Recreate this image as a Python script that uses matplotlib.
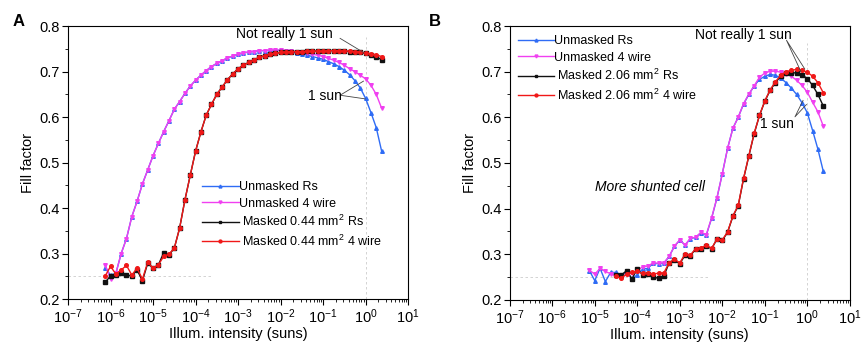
import numpy as np
import matplotlib
matplotlib.use('Agg')
import matplotlib.pyplot as plt
from matplotlib.ticker import LogLocator, MultipleLocator, NullFormatter

plt.rcParams['font.family'] = ['Liberation Sans', 'DejaVu Sans']
plt.rcParams['mathtext.fontset'] = 'custom'
plt.rcParams['mathtext.rm'] = 'Liberation Sans'
plt.rcParams['mathtext.it'] = 'Liberation Sans:italic'

# ---- panel A data (x as log10 of suns) ----
a_exp = [-6.125, -6.0, -5.875, -5.75, -5.625, -5.5, -5.375, -5.25, -5.125, -5.0,
         -4.875, -4.75, -4.625, -4.5, -4.375, -4.25, -4.125, -4.0, -3.875, -3.75,
         -3.625, -3.5, -3.375, -3.25, -3.125, -3.0, -2.875, -2.75, -2.625, -2.5,
         -2.375, -2.25, -2.125, -2.0, -1.875, -1.75, -1.625, -1.5, -1.375, -1.25,
         -1.125, -1.0, -0.875, -0.75, -0.625, -0.5, -0.375, -0.25, -0.125, 0.0,
         0.125, 0.25, 0.375]
a_unm_rs = [0.268, 0.253, 0.256, 0.300, 0.333, 0.381, 0.415, 0.453, 0.484, 0.515,
            0.542, 0.568, 0.592, 0.617, 0.634, 0.652, 0.668, 0.681, 0.692, 0.702,
            0.711, 0.718, 0.724, 0.730, 0.734, 0.738, 0.741, 0.743, 0.744, 0.746,
            0.746, 0.747, 0.747, 0.747, 0.745, 0.743, 0.741, 0.739, 0.736, 0.733,
            0.730, 0.727, 0.722, 0.717, 0.711, 0.703, 0.693, 0.680, 0.664, 0.641,
            0.610, 0.577, 0.526]
a_unm_4w = [0.275, 0.244, 0.257, 0.300, 0.333, 0.381, 0.415, 0.453, 0.484, 0.515,
            0.542, 0.568, 0.592, 0.617, 0.634, 0.652, 0.668, 0.681, 0.692, 0.702,
            0.711, 0.718, 0.724, 0.730, 0.734, 0.738, 0.741, 0.743, 0.744, 0.746,
            0.746, 0.747, 0.747, 0.747, 0.746, 0.745, 0.743, 0.742, 0.740, 0.738,
            0.736, 0.733, 0.729, 0.725, 0.720, 0.714, 0.706, 0.700, 0.692, 0.684,
            0.670, 0.650, 0.620]
a_msk_rs = [0.237, 0.251, 0.253, 0.257, 0.253, 0.251, 0.264, 0.240, 0.279, 0.268,
            0.275, 0.302, 0.297, 0.312, 0.356, 0.418, 0.472, 0.525, 0.567, 0.604,
            0.628, 0.650, 0.666, 0.682, 0.695, 0.706, 0.714, 0.720, 0.726, 0.731,
            0.735, 0.738, 0.740, 0.742, 0.743, 0.744, 0.744, 0.744, 0.745, 0.745,
            0.745, 0.745, 0.746, 0.746, 0.746, 0.745, 0.744, 0.743, 0.742, 0.740,
            0.737, 0.733, 0.726]
a_msk_4w = [0.251, 0.272, 0.255, 0.264, 0.274, 0.253, 0.268, 0.244, 0.281, 0.268,
            0.275, 0.294, 0.299, 0.312, 0.356, 0.418, 0.472, 0.525, 0.567, 0.604,
            0.628, 0.650, 0.666, 0.682, 0.695, 0.706, 0.714, 0.720, 0.726, 0.731,
            0.735, 0.738, 0.740, 0.742, 0.743, 0.744, 0.744, 0.744, 0.745, 0.745,
            0.745, 0.745, 0.746, 0.746, 0.746, 0.745, 0.745, 0.744, 0.743, 0.741,
            0.739, 0.737, 0.733]

# ---- panel B data ----
b_unm_exp = [-5.125, -5.0, -4.875, -4.75, -4.625, -4.5, -4.375, -4.25, -4.125, -4.0,
             -3.875, -3.75, -3.625, -3.5, -3.375, -3.25, -3.125, -3.0, -2.875, -2.75,
             -2.625, -2.5, -2.375, -2.25, -2.125, -2.0, -1.875, -1.75, -1.625, -1.5,
             -1.375, -1.25, -1.125, -1.0, -0.875, -0.75, -0.625, -0.5, -0.375, -0.25,
             -0.125, 0.0, 0.125, 0.25, 0.375]
b_unm_rs = [0.264, 0.242, 0.269, 0.240, 0.260, 0.260, 0.254, 0.262, 0.245, 0.255,
            0.267, 0.269, 0.280, 0.279, 0.280, 0.295, 0.317, 0.331, 0.320, 0.334,
            0.337, 0.347, 0.342, 0.379, 0.423, 0.476, 0.532, 0.576, 0.600, 0.629,
            0.650, 0.669, 0.683, 0.690, 0.694, 0.692, 0.686, 0.676, 0.664, 0.650,
            0.632, 0.610, 0.571, 0.530, 0.482]
b_unm_4w = [0.265, 0.256, 0.269, 0.262, 0.257, 0.252, 0.250, 0.256, 0.258, 0.264,
            0.272, 0.274, 0.281, 0.280, 0.281, 0.295, 0.318, 0.331, 0.320, 0.335,
            0.337, 0.348, 0.343, 0.380, 0.424, 0.476, 0.532, 0.576, 0.600, 0.630,
            0.651, 0.669, 0.688, 0.697, 0.701, 0.701, 0.699, 0.695, 0.690, 0.681,
            0.670, 0.655, 0.633, 0.612, 0.581]
b_msk_exp = [-4.5, -4.375, -4.25, -4.125, -4.0, -3.875, -3.75, -3.625, -3.5, -3.375,
             -3.25, -3.125, -3.0, -2.875, -2.75, -2.625, -2.5, -2.375, -2.25, -2.125,
             -2.0, -1.875, -1.75, -1.625, -1.5, -1.375, -1.25, -1.125, -1.0, -0.875,
             -0.75, -0.625, -0.5, -0.375, -0.25, -0.125, 0.0, 0.125, 0.25, 0.375]
b_msk_rs = [0.255, 0.254, 0.264, 0.246, 0.267, 0.255, 0.256, 0.250, 0.247, 0.252,
            0.281, 0.287, 0.279, 0.298, 0.297, 0.311, 0.312, 0.318, 0.312, 0.333,
            0.330, 0.348, 0.383, 0.406, 0.465, 0.515, 0.564, 0.604, 0.635, 0.659,
            0.676, 0.690, 0.697, 0.698, 0.697, 0.693, 0.685, 0.670, 0.650, 0.625]
b_msk_4w = [0.252, 0.247, 0.257, 0.260, 0.262, 0.258, 0.258, 0.257, 0.258, 0.259,
            0.281, 0.289, 0.281, 0.300, 0.298, 0.312, 0.314, 0.319, 0.313, 0.333,
            0.331, 0.349, 0.384, 0.407, 0.466, 0.516, 0.565, 0.604, 0.636, 0.660,
            0.678, 0.692, 0.700, 0.703, 0.705, 0.703, 0.699, 0.690, 0.676, 0.654]

c_blue = '#2f6cf5'
c_mag = '#f040f0'
c_blk = '#111111'
c_red = '#f01818'


def style_axes(ax):
    ax.set_xscale('log')
    ax.set_xlim(1e-7, 1e1)
    ax.set_ylim(0.2, 0.8)
    ax.xaxis.set_major_locator(LogLocator(base=10, numticks=20))
    ax.xaxis.set_minor_locator(LogLocator(base=10, subs=np.arange(2, 10), numticks=100))
    ax.xaxis.set_minor_formatter(NullFormatter())
    ax.yaxis.set_major_locator(MultipleLocator(0.1))
    ax.yaxis.set_minor_locator(MultipleLocator(0.05))
    ax.tick_params(which='major', direction='out', length=4, width=0.8, labelsize=10.5, pad=2)
    ax.tick_params(which='minor', direction='out', length=2, width=0.6)
    ax.set_ylabel('Fill factor', fontsize=10.5, labelpad=3)
    ax.set_xlabel('Illum. intensity (suns)', fontsize=10.5, labelpad=1)
    for s in ax.spines.values():
        s.set_linewidth(0.8)


def draw(ax, xs, ys, color, marker, label):
    ax.plot(xs, ys, color=color, marker=marker, ms=2.6, lw=1.0, label=label)


fig = plt.figure(figsize=(8.61, 3.43), dpi=100)
axA = fig.add_axes([0.079, 0.128, 0.395, 0.796])
axB = fig.add_axes([0.592, 0.126, 0.395, 0.798])

# panel A
xa = 10.0 ** np.array(a_exp)
axA.plot([1e-7, 2.3e-4], [0.25, 0.25], ls=(0, (3, 3)), color='#cccccc', lw=0.6)
axA.plot([1, 1], [0.2, 0.775], ls=(0, (3, 3)), color='#cccccc', lw=0.6)
draw(axA, xa, a_unm_rs, c_blue, '^', 'Unmasked Rs')
draw(axA, xa, a_unm_4w, c_mag, 'v', 'Unmasked 4 wire')
draw(axA, xa, a_msk_rs, c_blk, 's', r' Masked 0.44 mm$^2$ Rs')
draw(axA, xa, a_msk_4w, c_red, 'o', r' Masked 0.44 mm$^2$ 4 wire')
style_axes(axA)
axA.legend(loc='upper left', bbox_to_anchor=(0.38, 0.45), frameon=False, fontsize=9,
           handlelength=2.9, handletextpad=0.0, labelspacing=0.35, borderaxespad=0,
           markerscale=0.8)

axA.text(10 ** -1.9, 0.782, 'Not really 1 sun', fontsize=10, ha='center', va='center')
axA.plot([10 ** -0.6, 10 ** -0.05], [0.773, 0.742], color='#444444', lw=0.6)
axA.text(10 ** -0.95, 0.647, '1 sun', fontsize=10, ha='center', va='center')
axA.plot([10 ** -0.05, 10 ** -0.6, 10 ** -0.01], [0.679, 0.648, 0.640], color='#444444', lw=0.6)

# panel B
xbu = 10.0 ** np.array(b_unm_exp)
xbm = 10.0 ** np.array(b_msk_exp)
axB.plot([1e-7, 5e-3], [0.25, 0.25], ls=(0, (3, 3)), color='#cccccc', lw=0.6)
axB.plot([1, 1], [0.2, 0.762], ls=(0, (3, 3)), color='#cccccc', lw=0.6)
draw(axB, xbu, b_unm_rs, c_blue, '^', 'Unmasked Rs')
draw(axB, xbu, b_unm_4w, c_mag, 'v', 'Unmasked 4 wire')
draw(axB, xbm, b_msk_rs, c_blk, 's', r' Masked 2.06 mm$^2$ Rs')
draw(axB, xbm, b_msk_4w, c_red, 'o', r' Masked 2.06 mm$^2$ 4 wire')
style_axes(axB)
axB.legend(loc='upper left', bbox_to_anchor=(0.01, 0.985), frameon=False, fontsize=9,
           handlelength=2.9, handletextpad=0.0, labelspacing=0.35, borderaxespad=0,
           markerscale=0.8)

axB.text(10 ** -1.5, 0.780, 'Not really 1 sun', fontsize=10, ha='center', va='center')
axB.plot([10 ** -0.15, 10 ** -0.49, 10 ** -0.06], [0.700, 0.769, 0.706], color='#444444', lw=0.6)
axB.text(10 ** -0.72, 0.586, '1 sun', fontsize=10, ha='center', va='center')
axB.plot([10 ** -0.10, 10 ** -0.29, 10 ** -0.02], [0.637, 0.601, 0.628], color='#444444', lw=0.6)
axB.text(10 ** -3.71, 0.448, 'More shunted cell', fontsize=10, style='italic',
         ha='center', va='center')

fig.text(0.021, 0.936, 'A', fontsize=12, fontweight='bold', ha='center', va='center')
fig.text(0.505, 0.936, 'B', fontsize=12, fontweight='bold', ha='center', va='center')

fig.savefig('out.png', dpi=100)
